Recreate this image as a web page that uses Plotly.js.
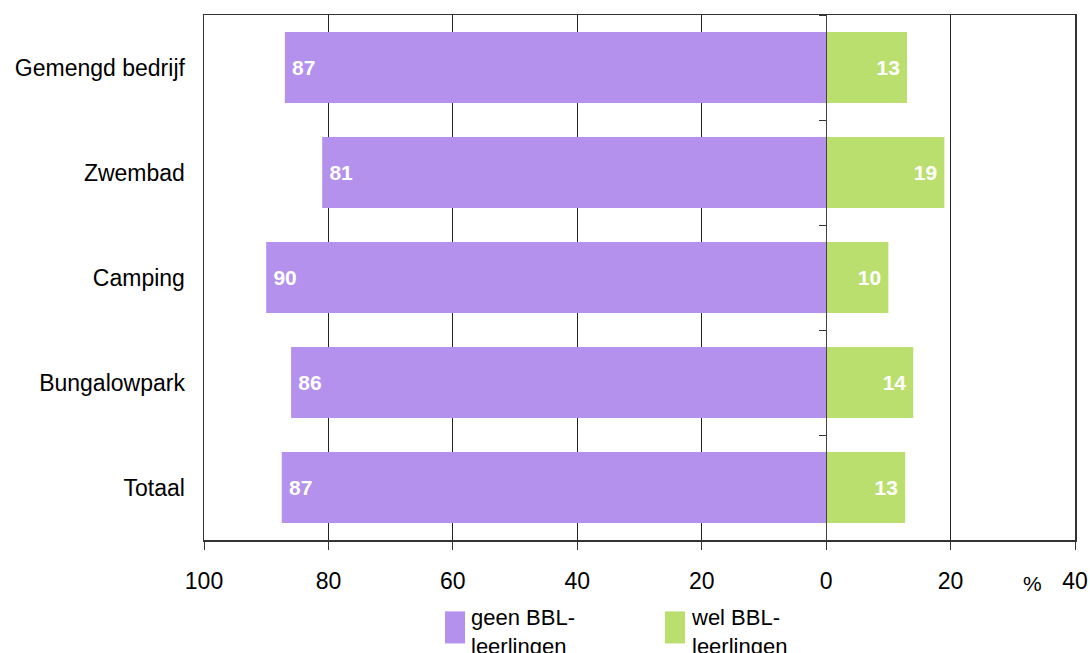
<!DOCTYPE html>
<html>
<head>
<meta charset="utf-8">
<script src="https://cdn.plot.ly/plotly-3.0.1.min.js"></script>
<style>html,body{margin:0;padding:0;background:#fff;}#chart{width:1090px;height:653px;}</style>
</head>
<body>
<div id="chart"></div>
<script>
const categories = ["Gemengd bedrijf", "Zwembad", "Camping", "Bungalowpark", "Totaal"];
const geenValues = [87, 81, 90, 86, 87.5];
const welValues = [13, 19, 10, 14, 12.7];
const geenLabels = ["87", "81", "90", "86", "87"];
const welLabels = ["13", "19", "10", "14", "13"];
const seriesNames = ["geen BBL-<br>leerlingen", "wel BBL-<br>leerlingen"];
const tickValues = [-100, -80, -60, -40, -20, 0, 20, 40];
const tickLabels = ["100", "80", "60", "40", "20", "0", "20", "40"];
const purple = "#B391EC";
const green = "#BADF6E";
const font = "Liberation Sans, Arial, sans-serif";

const traces = [
  {
    type: "bar", orientation: "h", name: seriesNames[0],
    y: categories, x: geenValues.map(v => -v),
    text: geenLabels, texttemplate: "\u2009%{text}", textposition: "inside", insidetextanchor: "end",
    textfont: {color: "#fff", size: 21, family: font, weight: "bold"},
    marker: {color: purple}, showlegend: false, hoverinfo: "skip"
  },
  {
    type: "bar", orientation: "h", name: seriesNames[1],
    y: categories, x: welValues,
    text: welLabels, texttemplate: "%{text}\u2009", textposition: "inside", insidetextanchor: "end",
    textfont: {color: "#fff", size: 21, family: font, weight: "bold"},
    marker: {color: green}, showlegend: false, hoverinfo: "skip"
  }
];

const zeroPos = (0 - (-100)) / 140;

const layout = {
  width: 1090, height: 653,
  margin: {l: 204, r: 15, t: 15, b: 113},
  paper_bgcolor: "#fff", plot_bgcolor: "#fff",
  barmode: "relative", bargap: 0.324,
  font: {family: font, color: "#000", size: 22},
  showlegend: false,
  xaxis: {
    range: [-100, 40], tickvals: tickValues, ticktext: tickLabels,
    showgrid: true, gridcolor: "#222", gridwidth: 1,
    zeroline: false,
    showline: true, linecolor: "#333", linewidth: 1.5, mirror: true,
    ticks: "outside", ticklen: 8, tickcolor: "#333",
    tickfont: {size: 23, family: font, color: "#000"},
    ticklabelstandoff: 12
  },
  yaxis: {
    type: "category", categoryorder: "array", categoryarray: categories,
    autorange: "reversed",
    showgrid: false, zeroline: false,
    showline: true, linecolor: "#333", linewidth: 1.5, mirror: true,
    ticks: "", ticklabelstandoff: 13,
    tickfont: {size: 23, family: font, color: "#000"}
  },
  yaxis2: {
    overlaying: "y", anchor: "free", position: zeroPos, side: "left",
    range: [4.5, -0.5], type: "linear",
    tickvals: [-0.5, 0.5, 1.5, 2.5, 3.5, 4.5],
    showticklabels: false, ticks: "outside", ticklen: 7, tickcolor: "#333",
    showline: true, linecolor: "#444", linewidth: 1,
    showgrid: false, zeroline: false
  },
  annotations: [
    {xref: "paper", yref: "paper", x: 0.964, y: -0.108, text: "%", showarrow: false,
     font: {size: 21, family: font, color: "#000"}},
    {xref: "paper", yref: "paper", x: 0.3047, y: -0.12, text: seriesNames[0], showarrow: false,
     xanchor: "left", yanchor: "top", align: "left",
     font: {size: 22, family: font, color: "#000"}},
    {xref: "paper", yref: "paper", x: 0.5574, y: -0.12, text: seriesNames[1], showarrow: false,
     xanchor: "left", yanchor: "top", align: "left",
     font: {size: 22, family: font, color: "#000"}}
  ],
  shapes: [
    {type: "rect", xref: "paper", yref: "paper", x0: 0.2767, x1: 0.2997, y0: -0.136, y1: -0.197,
     fillcolor: purple, line: {width: 0}},
    {type: "rect", xref: "paper", yref: "paper", x0: 0.5293, x1: 0.5523, y0: -0.136, y1: -0.197,
     fillcolor: green, line: {width: 0}}
  ]
};

Plotly.newPlot("chart", traces.concat([{type: "scatter", x: [], y: [], yaxis: "y2", showlegend: false}]), layout, {staticPlot: true});
</script>
</body>
</html>
